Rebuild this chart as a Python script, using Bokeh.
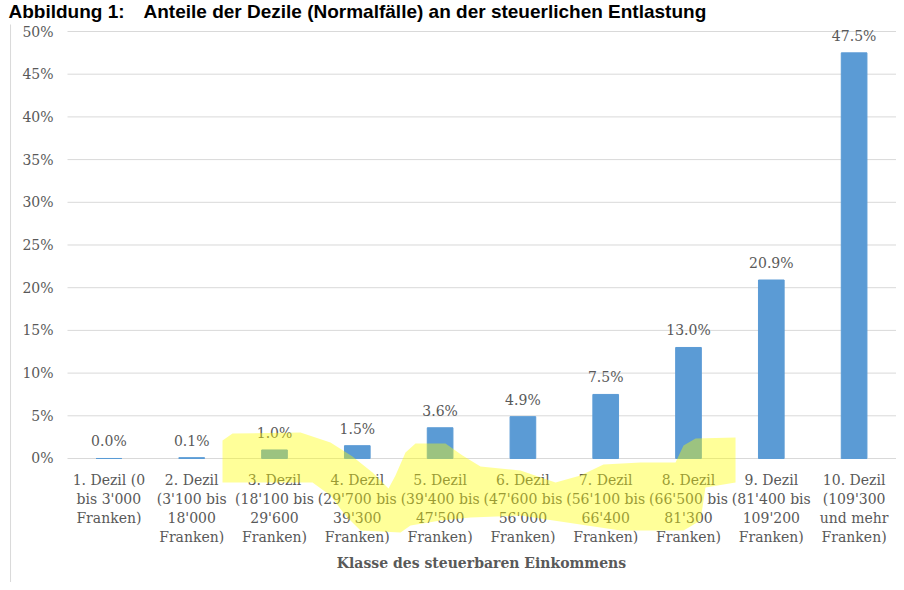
from bokeh.plotting import figure
from bokeh.models import Range1d, ColumnDataSource, PolyAnnotation, Label
from bokeh.core.properties import value
from bokeh.embed import file_html
from bokeh.resources import INLINE

# ---- data ----
categories = [
    "1. Dezil (0\nbis 3'000\nFranken)",
    "2. Dezil\n(3'100 bis\n18'000\nFranken)",
    "3. Dezil\n(18'100 bis\n29'600\nFranken)",
    "4. Dezil\n(29'700 bis\n39'300\nFranken)",
    "5. Dezil\n(39'400 bis\n47'500\nFranken)",
    "6. Dezil\n(47'600 bis\n56'000\nFranken)",
    "7. Dezil\n(56'100 bis\n66'400\nFranken)",
    "8. Dezil\n(66'500 bis\n81'300\nFranken)",
    "9. Dezil\n(81'400 bis\n109'200\nFranken)",
    "10. Dezil\n(109'300\nund mehr\nFranken)",
]
shares = [0.0, 0.1, 1.0, 1.5, 3.6, 4.9, 7.5, 13.0, 20.9, 47.5]
y_ticks = [0, 5, 10, 15, 20, 25, 30, 35, 40, 45, 50]
y_tick_labels = [f"{t}%" for t in y_ticks]

title_num = "Abbildung 1:"
title_text = "Anteile der Dezile (Normalfälle) an der steuerlichen Entlastung"
x_title = "Klasse des steuerbaren Einkommens"

# hand-drawn highlighter stroke (decoration), in chart units
highlight_x = [1.872, 1.993, 2.814, 3.176, 3.442, 3.684, 3.877, 3.961, 4.082, 4.203,
               4.565, 4.771, 4.988, 5.471, 5.894, 6.196, 6.473, 6.920, 7.343, 7.440,
               7.585, 8.068, 8.068, 7.705, 7.645, 7.440, 6.679, 5.870, 5.471, 4.867,
               4.505, 4.143, 4.022, 3.539, 3.357, 3.176, 2.959, 1.872]
highlight_y = [2.108, 2.927, 3.044, 1.874, 0.234, -1.639, -3.513, -1.991, 0.703, 1.756,
               1.756, 0.351, -0.937, -1.405, -2.810, -1.991, -0.703, -0.468, -0.468, 1.522,
               2.342, 2.459, -2.810, -3.396, -7.260, -8.431, -8.431, -7.260, -6.674, -6.909,
               -7.260, -7.845, -8.665, -8.431, -6.674, -4.333, -2.810, -2.810]

TEXT = "#595959"
GRID = "#D9D9D9"
SERIF = "DejaVu Serif"

n = len(categories)
X_START, X_END = -0.8092, 10.012
src = ColumnDataSource(dict(x=[i + 0.5 for i in range(n)], cat=categories, share=shares,
                            zero=[0] * n, label=[f"{v:.1f}%" for v in shares]))
tick_src = ColumnDataSource(dict(y=y_ticks, label=y_tick_labels,
                                 x0=[0] * len(y_ticks), x1=[n + 0.012] * len(y_ticks)))

p = figure(x_range=Range1d(X_START, X_END), y_range=Range1d(-14.52, 53.63),
           width=896, height=582, output_backend="svg", toolbar_location=None,
           min_border_left=0, min_border_right=0, min_border_top=0,
           min_border_bottom=0)
p.xaxis.visible = False
p.yaxis.visible = False
p.xgrid.visible = False
p.ygrid.visible = False
p.outline_line_color = None

# value axis: grid lines and labels
p.segment(x0="x0", x1="x1", y0="y", y1="y", source=tick_src, line_color=GRID, line_width=1)
p.text(x="x0", y="y", text="label", source=tick_src, x_offset=-14, text_align="right",
       text_baseline="middle", text_font=value(SERIF), text_font_size="14px",
       text_color=TEXT)

# left edge of the original figure box
p.segment(x0=[-0.688], x1=[-0.688], y0=[50.82], y1=[-14.52], line_color=GRID, line_width=1)

# bars and value labels
p.vbar(x="x", top="share", width=0.31, source=src, color="#5B9BD5")
p.text(x="x", y="share", text="label", source=src, text_align="center",
       text_baseline="alphabetic", y_offset=-17, text_font=value(SERIF),
       text_font_size="14px", text_color=TEXT)

# category labels under the baseline
p.text(x="x", y="zero", text="cat", source=src, text_align="center",
       text_baseline="top", y_offset=14, text_font=value(SERIF),
       text_font_size="14px", text_color=TEXT, text_line_height=1.17)

# x axis title
p.add_layout(Label(x=n / 2, y=-12.18, text=x_title, text_font=SERIF,
                   text_font_style="bold", text_font_size="14px", text_color=TEXT,
                   text_align="center", text_baseline="alphabetic"))

# highlighter
p.add_layout(PolyAnnotation(xs=highlight_x, ys=highlight_y, fill_color="#FFFF00",
                            fill_alpha=0.4, line_alpha=0))

# figure caption at the top
p.add_layout(Label(x=-0.7126, y=52.30, text=title_num, text_font="Liberation Sans",
                   text_font_style="bold", text_font_size="19px", text_color="#000000",
                   text_baseline="alphabetic"))
p.add_layout(Label(x=0.9179, y=52.30, text=title_text, text_font="Liberation Sans",
                   text_font_style="bold", text_font_size="19px", text_color="#000000",
                   text_baseline="alphabetic"))

open("out.html", "w").write(file_html(p, INLINE))
